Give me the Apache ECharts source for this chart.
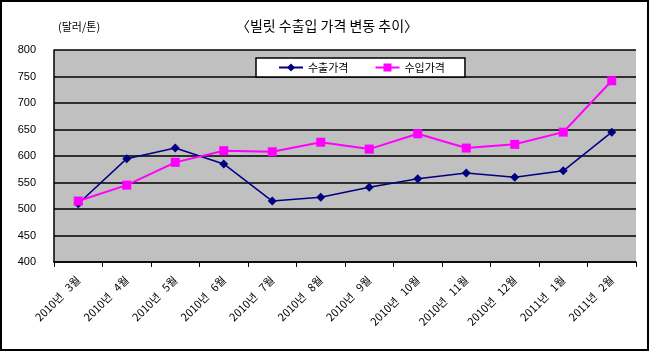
<!DOCTYPE html>
<html>
<head>
<meta charset="utf-8">
<script src="https://cdn.jsdelivr.net/npm/echarts@6/dist/echarts.min.js"></script>
<style>
  html, body { margin: 0; padding: 0; background: #fff; }
  #chart { width: 650px; height: 352px; }
</style>
</head>
<body>
<div id="chart"></div>
<script>
const months = ['2010년 3월', '2010년 4월', '2010년 5월', '2010년 6월', '2010년 7월', '2010년 8월',
  '2010년 9월', '2010년 10월', '2010년 11월', '2010년 12월', '2011년 1월', '2011년 2월']
const exportPrice = [510, 595, 615, 585, 515, 522, 541, 557, 568, 560, 572, 645]
const importPrice = [515, 545, 588, 610, 608, 626, 613, 642, 615, 622, 645, 742]

const krFont = '"Noto Sans CJK KR", "Noto Sans", sans-serif'

const chart = echarts.init(document.getElementById('chart'))

chart.setOption({
  backgroundColor: '#fff',
  animation: false,
  title: [
    {
      text: '〈빌릿 수출입 가격 변동 추이〉',
      left: 322,
      textAlign: 'center',
      top: 14,
      textStyle: { fontFamily: krFont, fontSize: 14, fontWeight: 'normal', color: '#000' },
    },
    {
      text: '(달러/톤)',
      left: 53,
      top: 16,
      textStyle: { fontFamily: krFont, fontSize: 11, fontWeight: 'normal', color: '#000' },
    },
  ],
  legend: {
    data: ['수출가격', '수입가격'],
    left: 256,
    top: 58,
    padding: [4, 20, 4, 22],
    itemGap: 26,
    itemWidth: 24,
    itemHeight: 10,
    backgroundColor: '#fff',
    borderColor: '#000',
    borderWidth: 1.5,
    textStyle: { fontFamily: krFont, fontSize: 11, color: '#000' },
  },
  grid: { left: 54, right: 14, top: 50, bottom: 90, show: true, backgroundColor: '#c0c0c0', borderWidth: 0 },
  xAxis: {
    type: 'category',
    data: months,
    boundaryGap: true,
    axisLine: { lineStyle: { color: '#000', width: 1.5 } },
    axisTick: { show: true, alignWithLabel: false, lineStyle: { color: '#000' } },
    axisLabel: {
      rotate: 45,
      interval: 0,
      margin: 16,
      fontFamily: krFont,
      fontSize: 11,
      color: '#000',
      formatter: (v) => v.replace(' ', '   '),
    },
  },
  yAxis: {
    type: 'value',
    min: 400,
    max: 800,
    interval: 50,
    axisLine: { show: true, lineStyle: { color: '#000', width: 1.5 } },
    axisTick: { show: false },
    splitLine: { lineStyle: { color: '#000', width: 1.5 } },
    axisLabel: { margin: 18, fontFamily: '"Liberation Sans", Arial, sans-serif', fontSize: 11, color: '#000' },
  },
  series: [
    {
      name: '수출가격',
      type: 'line',
      data: exportPrice,
      symbol: 'diamond',
      symbolSize: 9,
      lineStyle: { color: '#000080', width: 1.5 },
      itemStyle: { color: '#000080' },
    },
    {
      name: '수입가격',
      type: 'line',
      data: importPrice,
      symbol: 'rect',
      symbolSize: 9,
      lineStyle: { color: '#ff00ff', width: 2 },
      itemStyle: { color: '#ff00ff' },
    },
  ],
  graphic: [
    {
      type: 'rect',
      shape: { x: 1, y: 1, width: 647, height: 349 },
      style: { fill: 'none', stroke: '#000', lineWidth: 2 },
      silent: true,
    },
  ],
})
</script>
</body>
</html>
